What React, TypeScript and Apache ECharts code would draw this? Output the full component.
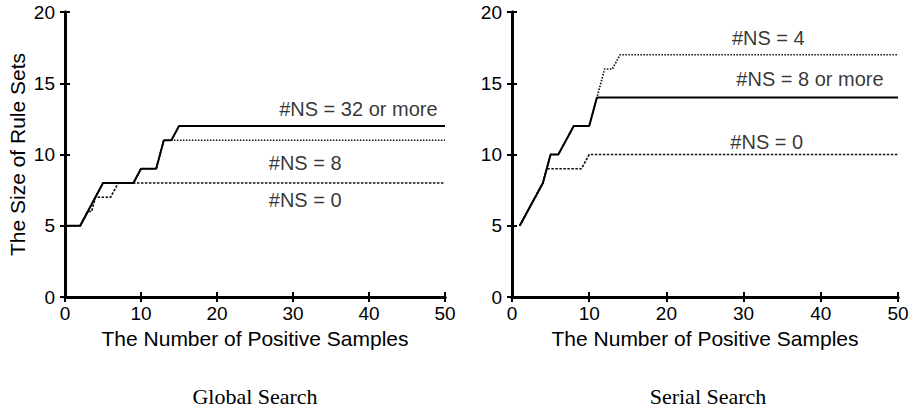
import React, { useEffect, useRef } from "react";
import * as echarts from "echarts";

// ---- data ----
const xTicks = [0, 10, 20, 30, 40, 50];
const yTicks = [0, 5, 10, 15, 20];

// Global Search
const globalNS32: [number, number][] = [[0, 5], [2, 5], [5, 8], [9, 8], [10, 9], [12, 9], [13, 11], [14, 11], [15, 12], [50, 12]];
const globalNS8: [number, number][] = [[0, 5], [2, 5], [5, 8], [9, 8], [10, 9], [12, 9], [13, 11], [50, 11]];
const globalNS0: [number, number][] = [[0, 5], [2, 5], [3, 6], [3.5, 6], [4, 7], [6, 7], [7, 8], [50, 8]];

// Serial Search
const serialNS8: [number, number][] = [[1, 5], [4, 8], [5, 10], [6, 10], [8, 12], [10, 12], [11, 14], [50, 14]];
const serialNS4: [number, number][] = [[1, 5], [4, 8], [5, 10], [6, 10], [8, 12], [10, 12], [11, 14], [12, 16], [13, 16], [14, 17], [50, 17]];
const serialNS0: [number, number][] = [[1, 5], [4, 8], [4.5, 9], [9, 9], [10, 10], [50, 10]];

const globalLabels: [number, number, string][] = [
  [38.6, 13.2, "#NS = 32 or more"],
  [31.6, 9.4, "#NS = 8"],
  [31.6, 6.8, "#NS = 0"],
];
const serialLabels: [number, number, string][] = [
  [33.2, 18.2, "#NS = 4"],
  [38.6, 15.3, "#NS = 8 or more"],
  [33.0, 10.9, "#NS = 0"],
];

const xName = "The Number of Positive Samples";
const yName = "The Size of Rule Sets";
const panelTitles = ["Global Search", "Serial Search"];

const SANS = "'Liberation Sans', Arial, Helvetica, sans-serif";
const SERIF = "'Liberation Serif', 'DejaVu Serif', serif";

export default function App() {
  const ref = useRef<HTMLDivElement>(null);
  useEffect(() => {
    if (!ref.current) return;
    const chart = echarts.init(ref.current, undefined, { renderer: "svg" });

    const grids = [
      { left: 65, right: 475, top: 12, bottom: 116 },
      { left: 512, right: 22, top: 12, bottom: 116 },
    ];

    const tickStyle = { show: true, inside: true, length: 5, lineStyle: { color: "#000", width: 2 } };
    const lineAx = { show: true, lineStyle: { color: "#000", width: 3 } };

    const xAxes: any[] = [];
    const yAxes: any[] = [];
    [0, 1].forEach((g) => {
      xAxes.push({
        type: "value", gridIndex: g, min: xTicks[0], max: xTicks[xTicks.length - 1], interval: 10,
        position: "bottom",
        axisLine: lineAx, axisTick: tickStyle, splitLine: { show: false },
        axisLabel: { color: "#000", fontFamily: SANS, fontSize: 19, margin: 7 },
        name: xName, nameLocation: "middle", nameGap: 27,
        nameTextStyle: { color: "#000", fontFamily: SANS, fontSize: 21 },
      });
      xAxes.push({
        type: "value", gridIndex: g, min: 0, max: 50, interval: 10, position: "top",
        axisLine: lineAx, axisTick: tickStyle, splitLine: { show: false }, axisLabel: { show: false },
      });
      yAxes.push({
        type: "value", gridIndex: g, min: yTicks[0], max: yTicks[yTicks.length - 1], interval: 5,
        position: "left",
        axisLine: lineAx, axisTick: tickStyle, splitLine: { show: false },
        axisLabel: { color: "#000", fontFamily: SANS, fontSize: 19, margin: 10 },
        name: g === 0 ? yName : "", nameLocation: "middle", nameGap: 37,
        nameTextStyle: { color: "#000", fontFamily: SANS, fontSize: 21 },
      });
      yAxes.push({
        type: "value", gridIndex: g, min: 0, max: 20, interval: 5, position: "right",
        axisLine: lineAx, axisTick: tickStyle, splitLine: { show: false }, axisLabel: { show: false },
      });
    });

    const solid = { color: "#000", width: 2, type: "solid" };
    const dotted = { color: "#111", width: 1.7, type: [1.5, 1.5] };
    const dashed = { color: "#111", width: 1.7, type: [2.5, 1.5] };

    const lineSeries = (data: [number, number][], g: number, style: any, z: number) => ({
      type: "line", xAxisIndex: g * 2, yAxisIndex: g * 2, data, showSymbol: false, symbol: "none",
      lineStyle: style, z, silent: true,
    });
    const labelSeries = (data: [number, number, string][], g: number) => ({
      type: "scatter", xAxisIndex: g * 2, yAxisIndex: g * 2, data, symbolSize: 0, silent: true,
      label: {
        show: true, position: "inside", formatter: (p: any) => p.data[2],
        color: "#000", fontFamily: SANS, fontSize: 20,
      },
    });

    const titleStyle = { fontFamily: SERIF, fontSize: 22, fontWeight: "normal", color: "#000" };
    chart.setOption({
      animation: false,
      backgroundColor: "#fff",
      grid: grids,
      xAxis: xAxes,
      yAxis: yAxes,
      title: [
        { text: panelTitles[0], left: 250, top: 380, textAlign: "center", textStyle: titleStyle },
        { text: panelTitles[1], left: 703, top: 380, textAlign: "center", textStyle: titleStyle },
      ],
      series: [
        lineSeries(globalNS0, 0, dashed, 2),
        lineSeries(globalNS8, 0, dotted, 3),
        lineSeries(globalNS32, 0, solid, 4),
        labelSeries(globalLabels, 0),
        lineSeries(serialNS0, 1, dashed, 2),
        lineSeries(serialNS4, 1, dotted, 3),
        lineSeries(serialNS8, 1, solid, 4),
        labelSeries(serialLabels, 1),
      ],
    });
    return () => chart.dispose();
  }, []);
  return <div ref={ref} style={{ position: "fixed", left: 0, top: 0, width: 920, height: 413, background: "#fff" }} />;
}
